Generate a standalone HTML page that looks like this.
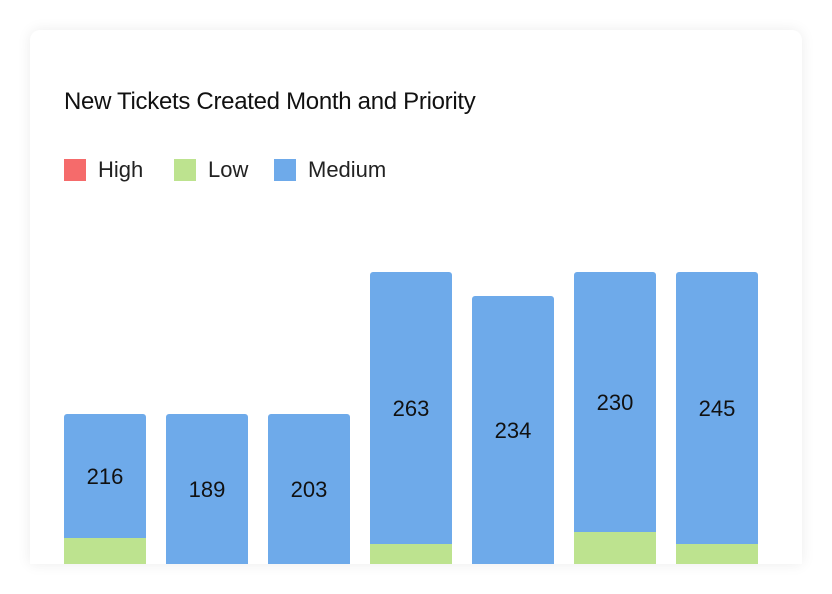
<!DOCTYPE html>
<html><head><meta charset="utf-8">
<style>
html,body{margin:0;padding:0;background:#fff;width:832px;height:594px;overflow:hidden;font-family:"Liberation Sans",sans-serif;}
.card{position:absolute;left:30px;top:30px;width:772px;height:534px;background:#fff;border-radius:10px 10px 0 0;box-shadow:0 0 14px rgba(0,0,0,0.08);overflow:hidden;}
.title{position:absolute;left:64px;top:88px;font-size:24px;color:#111;letter-spacing:-0.3px;}
.leg{position:absolute;top:157px;font-size:22px;color:#222;display:flex;align-items:center;}
.sw{width:22px;height:22px;margin-right:12px;display:inline-block;}
svg{position:absolute;left:0;top:0;}
</style></head><body>
<div class="card"></div>
<div class="title">New Tickets Created Month and Priority</div>
<div class="leg" style="left:64px"><span class="sw" style="background:#f56b6b"></span>High</div>
<div class="leg" style="left:174px"><span class="sw" style="background:#bde38f"></span>Low</div>
<div class="leg" style="left:274px"><span class="sw" style="background:#6eaaea"></span>Medium</div>
<svg id="chart" width="832" height="594"></svg>
<script>
const categories = ["M1","M2","M3","M4","M5","M6","M7"];
const lowValues = [26,0,0,20,0,32,20];
const mediumValues = [124,150,150,272,268,260,272];
const mediumLabels = ["216","189","203","263","234","230","245"];
const svg = document.getElementById('chart');
const NS = 'http://www.w3.org/2000/svg';
const baseY = 564, pxPerUnit = 1, x0 = 64, step = 102, bw = 82;
function xPos(i){return x0 + i*step;}
function yPos(v){return baseY - v*pxPerUnit;}
const clip = document.createElementNS(NS,'clipPath');
clip.setAttribute('id','cl');
const cr = document.createElementNS(NS,'rect');
cr.setAttribute('x',30);cr.setAttribute('y',30);cr.setAttribute('width',772);cr.setAttribute('height',534);
clip.appendChild(cr);svg.appendChild(clip);
const g = document.createElementNS(NS,'g');
g.setAttribute('clip-path','url(#cl)');
svg.appendChild(g);
categories.forEach((c,i)=>{
  const x = xPos(i);
  const lowTop = yPos(lowValues[i]);
  const medTop = yPos(lowValues[i]+mediumValues[i]);
  const m = document.createElementNS(NS,'rect');
  
  
  m.setAttribute('x',x);m.setAttribute('y',medTop);m.setAttribute('width',bw);
  m.setAttribute('height',lowTop-medTop+4);m.setAttribute('rx',3);m.setAttribute('fill','#6eaaea');
  g.appendChild(m);
  if(lowValues[i]>0){
    const l = document.createElementNS(NS,'rect');
    
    
    l.setAttribute('x',x);l.setAttribute('y',lowTop);l.setAttribute('width',bw);
    l.setAttribute('height',baseY-lowTop+5);l.setAttribute('fill','#bde38f');
    g.appendChild(l);
  }
  const t = document.createElementNS(NS,'text');
  
  
  t.setAttribute('x',x+bw/2);t.setAttribute('y',(medTop+lowTop)/2+8);
  t.setAttribute('text-anchor','middle');t.setAttribute('font-size','22');
  t.setAttribute('fill','#111');t.setAttribute('font-family','Liberation Sans, sans-serif');
  t.textContent = mediumLabels[i];
  g.appendChild(t);
});
</script>
</body></html>
